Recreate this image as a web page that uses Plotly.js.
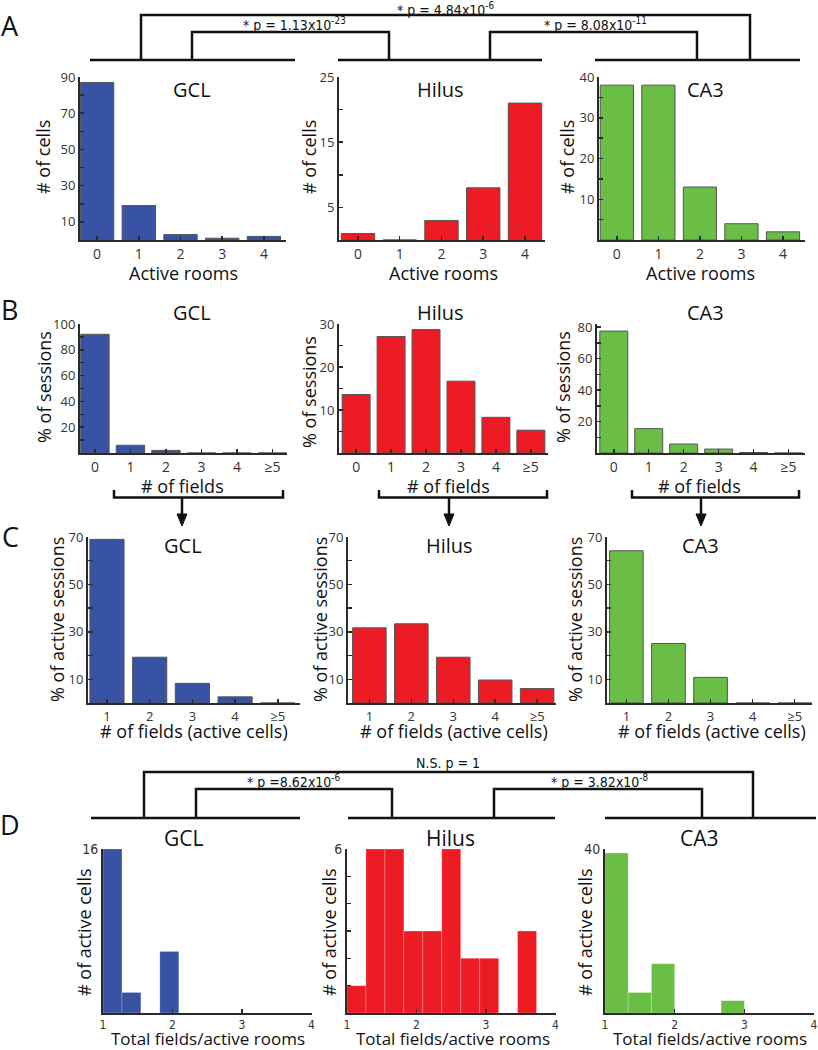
<!DOCTYPE html>
<html><head><meta charset="utf-8">
<script src="https://cdn.plot.ly/plotly-3.0.1.min.js"></script>
<style>html,body{margin:0;padding:0;background:#fff}#chart{width:818px;height:1050px}</style>
</head><body><div id="chart"></div>
<script>
// ---------------- DATA ----------------
const roomCats = ['0','1','2','3','4'];
const gclRooms = [87, 19, 3, 1, 2];
const hilusRooms = [1, 0, 3, 8, 21];
const ca3Rooms = [38, 38, 13, 4, 2];

const fieldCats = ['0','1','2','3','4','≥5'];
const gclFields = [92, 6, 2, 0, 0, 0];
const hilusFields = [13.6, 27.1, 28.7, 16.7, 8.3, 5.3];
const ca3Fields = [77.5, 15.5, 5.7, 2.5, 0.3, 0];

const activeCats = ['1','2','3','4','≥5'];
const gclActive = [69, 19.3, 8.3, 2.6, 0];
const hilusActive = [31.7, 33.4, 19.3, 9.7, 6.1];
const ca3Active = [64.2, 25.1, 10.8, 0, 0];

const binEdges11 = [1, 1.273, 1.545, 1.818, 2.091, 2.364, 2.636, 2.909, 3.182, 3.455, 3.727, 4];
const binEdges9 = [1, 1.333, 1.667, 2, 2.333, 2.667, 3, 3.333, 3.667, 4];
const gclRatio = [16, 2, 0, 6, 0, 0, 0, 0, 0, 0, 0];
const hilusRatio = [1, 6, 6, 3, 3, 6, 2, 2, 0, 3, 0];
const ca3Ratio = [39, 5, 12, 0, 0, 3, 0, 0, 0];

// labelled y ticks and unlabelled (minor) y ticks
const aGclTicks = [10,30,50,70,90];    const aGclMinor = [20,40,60,80];
const aHilTicks = [5,15,25];           const aHilMinor = [10,20];
const aCa3Ticks = [10,20,30,40];       const aCa3Minor = [5,15,25,35];
const bGclTicks = [20,40,60,80,100];   const bGclMinor = [10,30,50,70,90];
const bHilTicks = [10,20,30];          const bHilMinor = [5,15,25];
const bCa3Ticks = [20,40,60,80];       const bCa3Minor = [10,30,50,70];
const cTicks = [10,30,50,70];          const cMinor = [20,40,60];
const dGclTicks = [16];                const dGclMinor = [];
const dHilTicks = [6];                 const dHilMinor = [1,2,3,4,5];
const dCa3Ticks = [40];                const dCa3Minor = [];
const dXTicks = [1,2,3,4];

const regions = ['GCL','Hilus','CA3'];
const pvalsA = ['* p = 4.84x10<sup>-6</sup>', '* p = 1.13x10<sup>-23</sup>', '* p = 8.08x10<sup>-11</sup>'];
const pvalsD = ['N.S. p = 1', '* p =8.62x10<sup>-6</sup>', '* p = 3.82x10<sup>-8</sup>'];

// ---------------- LAYOUT HELPERS ----------------
const W = 818, H = 1050;
const px = x => x / W;
const py = y => 1 - y / H;
const FONT = 'Open Sans, Noto Sans, sans-serif';
const NARROW = 'Liberation Sans Narrow, DejaVu Sans Condensed, Arial Narrow, sans-serif';
const COLORS = ['#3953a4', '#ed1c24', '#6abd45'];
const AX = '#2a2a2a';

const traces = [];
const layout = {
  width: W, height: H, margin: {l:0, r:0, t:0, b:0},
  paper_bgcolor: '#fff', plot_bgcolor: 'rgba(0,0,0,0)',
  showlegend: false, bargap: 0.2,
  annotations: [], shapes: []
};

function addPanel(n, geom, xdef, ydef, minorVals) {
  const xa = Object.assign({
    domain: [px(geom.x0), px(geom.x1)], anchor: 'y' + n,
    showline: true, linecolor: AX, linewidth: 2,
    ticks: 'inside', ticklen: 4, tickwidth: 1.5, tickcolor: AX,
    showgrid: false, zeroline: false, fixedrange: true,
    tickfont: {family: FONT, size: 14, color: '#333'}
  }, xdef);
  const ya = Object.assign({
    domain: [py(geom.y1), py(geom.y0)], anchor: 'x' + n,
    showline: true, linecolor: AX, linewidth: 2,
    ticks: 'inside', ticklen: 4, tickwidth: 1.5, tickcolor: AX,
    showgrid: false, zeroline: false, fixedrange: true,
    tickmode: 'array',
    tickfont: {family: FONT, size: 13, color: '#333'}
  }, ydef);
  if (minorVals && minorVals.length) {
    ya.minor = {tickmode: 'array', tickvals: minorVals, ticks: 'inside',
      ticklen: 4, tickwidth: 1.5, tickcolor: AX, showgrid: false};
  }
  layout['xaxis' + (n === 1 ? '' : n)] = xa;
  layout['yaxis' + (n === 1 ? '' : n)] = ya;
}

function barTrace(n, cats, vals, color) {
  traces.push({type: 'bar', x: cats, y: vals,
    xaxis: 'x' + (n === 1 ? '' : n), yaxis: 'y' + (n === 1 ? '' : n),
    marker: {color: color, line: {color: '#555', width: 1}}, hoverinfo: 'x+y'});
}

function histTrace(n, edges, counts, color) {
  const centers = counts.map((c, i) => (edges[i] + edges[i + 1]) / 2);
  const widths = counts.map((c, i) => edges[i + 1] - edges[i]);
  traces.push({type: 'bar', x: centers, y: counts, width: widths,
    xaxis: 'x' + n, yaxis: 'y' + n,
    marker: {color: color, line: {color: 'rgba(255,255,255,0.35)', width: 0.6}}, hoverinfo: 'y'});
}

function ann(text, x, y, size, family, extra) {
  layout.annotations.push(Object.assign({
    text: text, x: px(x), y: py(y), xref: 'paper', yref: 'paper',
    xanchor: 'center', yanchor: 'middle', showarrow: false,
    font: {family: family || FONT, size: size, color: '#111'}
  }, extra || {}));
}

function path(pts, width) {
  const d = 'M ' + pts.map(p => px(p[0]) + ',' + py(p[1])).join(' L ');
  layout.shapes.push({type: 'path', xref: 'paper', yref: 'paper', path: d,
    line: {color: '#111', width: width || 2.5}});
}
function tri(x, yTop, yTip) {
  const d = `M ${px(x - 5)},${py(yTop)} L ${px(x + 5)},${py(yTop)} L ${px(x)},${py(yTip)} Z`;
  layout.shapes.push({type: 'path', xref: 'paper', yref: 'paper', path: d,
    fillcolor: '#111', line: {color: '#111', width: 1}});
}

// ---------------- ROW A ----------------
const geomA = [{x0:80,x1:286,y0:77,y1:240},{x0:339,x1:545,y0:77,y1:240},{x0:599,x1:805,y0:77,y1:240}];
const xrA = [[-0.41,4.53],[-0.455,4.48],[-0.43,4.53]];
const yA = [[90,aGclTicks,aGclMinor],[25,aHilTicks,aHilMinor],[40,aCa3Ticks,aCa3Minor]];
const dataA = [gclRooms, hilusRooms, ca3Rooms];
for (let i = 0; i < 3; i++) {
  const n = 1 + i;
  addPanel(n, geomA[i], {type:'category', range: xrA[i]},
    {range: [0, yA[i][0]], tickvals: yA[i][1]}, yA[i][2]);
  barTrace(n, roomCats, dataA[i], COLORS[i]);
}
// ---------------- ROW B ----------------
const geomB = [{x0:80,x1:287,y0:324,y1:453},{x0:339,x1:548,y0:324,y1:453},{x0:597,x1:805,y0:324,y1:453}];
const xrB = [[-0.42,5.41],[-0.49,5.49],[-0.48,5.47]];
const yB = [[100,bGclTicks,bGclMinor],[30,bHilTicks,bHilMinor],[82,bCa3Ticks,bCa3Minor]];
const dataB = [gclFields, hilusFields, ca3Fields];
for (let i = 0; i < 3; i++) {
  const n = 4 + i;
  addPanel(n, geomB[i], {type:'category', range: xrB[i]},
    {range: [0, yB[i][0]], tickvals: yB[i][1]}, yB[i][2]);
  barTrace(n, fieldCats, dataB[i], COLORS[i]);
}
// ---------------- ROW C ----------------
const geomC = [{x0:88,x1:300,y0:537,y1:703},{x0:348,x1:556,y0:537,y1:703},{x0:607,x1:812,y0:537,y1:703}];
const xrC = [[-0.444,4.52],[-0.51,4.45],[-0.46,4.41]];
const dataC = [gclActive, hilusActive, ca3Active];
for (let i = 0; i < 3; i++) {
  const n = 7 + i;
  addPanel(n, geomC[i], {type:'category', range: xrC[i],
      tickfont: {family: FONT, size: 13, color: '#333'}},
    {range: [0, 70], tickvals: cTicks}, cMinor);
  barTrace(n, activeCats, dataC[i], COLORS[i]);
}
// ---------------- ROW D ----------------
const geomD = [{x0:103,x1:311.5,y0:849,y1:1013},{x0:347,x1:555.5,y0:849,y1:1013},{x0:605,x1:814,y0:849,y1:1013}];
const yD = [[16,dGclTicks,dGclMinor],[6,dHilTicks,dHilMinor],[40,dCa3Ticks,dCa3Minor]];
const edgesD = [binEdges11, binEdges11, binEdges9];
const dataD = [gclRatio, hilusRatio, ca3Ratio];
for (let i = 0; i < 3; i++) {
  const n = 10 + i;
  addPanel(n, geomD[i],
    {type:'linear', range: [1, 4], tickmode: 'array', tickvals: dXTicks,
     tickfont: {family: NARROW, size: 12, color: '#333'}},
    {range: [0, yD[i][0]], tickvals: yD[i][1],
     tickfont: {family: NARROW, size: 14, color: '#333'}}, yD[i][2]);
  histTrace(n, edgesD[i], dataD[i], COLORS[i]);
}

// ---------------- TEXT ----------------
const titleA = [[192,89],[441,89],[705,89]];
const titleB = [[192,312],[441,312],[705,312]];
const titleC = [[183,545],[449,545],[700,545]];
const titleD = [[183,838],[450,838],[699,838]];
for (let i = 0; i < 3; i++) {
  ann(regions[i], titleA[i][0], titleA[i][1], 20);
  ann(regions[i], titleB[i][0], titleB[i][1], 20);
  ann(regions[i], titleC[i][0], titleC[i][1], 20);
  ann(regions[i], titleD[i][0], titleD[i][1], 21);
}
const rot = {textangle: -90};
[[43,157],[309,157],[567,157]].forEach(p => ann('# of cells', p[0], p[1], 18, FONT, rot));
[[44,387],[309,392],[563,387]].forEach(p => ann('% of sessions', p[0], p[1], 18, FONT, rot));
[[57,620],[320,620],[575,620]].forEach(p => ann('% of active sessions', p[0], p[1], 18, FONT, rot));
[[84,932],[329,932],[585,932]].forEach(p => ann('# of active cells', p[0], p[1], 18, FONT, rot));
[[183,273],[443,273],[700,273]].forEach(p => ann('Active rooms', p[0], p[1], 18));
[[182,486],[448,486],[699,486]].forEach(p => ann('# of fields', p[0], p[1], 18));
[[194,731],[454,731],[712,731]].forEach(p => ann('# of fields (active cells)', p[0], p[1], 18, FONT, {borderpad: 0}));
[[208,1038.5],[453,1038.5],[710,1038.5]].forEach(p => ann('Total fields/active rooms', p[0], p[1], 17, FONT, {borderpad: 0}));

[['A',10,25],['B',9,309],['C',10,536],['D',10,824]].forEach(p => ann(p[0], p[1], p[2], 27));

ann(pvalsA[0], 446, 9, 14, NARROW);
ann(pvalsA[1], 294, 24, 14, NARROW);
ann(pvalsA[2], 595, 24, 14, NARROW);
ann(pvalsD[0], 448, 763, 14, NARROW);
ann(pvalsD[1], 294, 781, 14, NARROW);
ann(pvalsD[2], 600, 781, 14, NARROW);

// ---------------- BRACKETS ----------------
// Row A
[[90,295],[338,542],[595,800]].forEach(s => path([[s[0],60],[s[1],60]]));
path([[141,60],[141,15],[750,15],[750,60]]);
path([[192,60],[192,32],[389,32],[389,60]]);
path([[490,60],[490,32],[697,32],[697,60]]);
// Row D
[[91,300],[348,555],[605,816]].forEach(s => path([[s[0],818],[s[1],818]]));
path([[144,818],[144,772],[753,772],[753,818]]);
path([[196,818],[196,789],[392,789],[392,818]]);
path([[494,818],[494,789],[702,789],[702,818]]);
// Row B -> C arrows
[[114,283,182],[379,547,449],[632,799,701]].forEach(b => {
  path([[b[0],490],[b[0],497.5],[b[1],497.5],[b[1],490]], 2.5);
  path([[b[2],497.5],[b[2],515]], 2.5);
  tri(b[2], 514, 526);
});

Plotly.newPlot('chart', traces, layout, {staticPlot: true});
</script></body></html>
